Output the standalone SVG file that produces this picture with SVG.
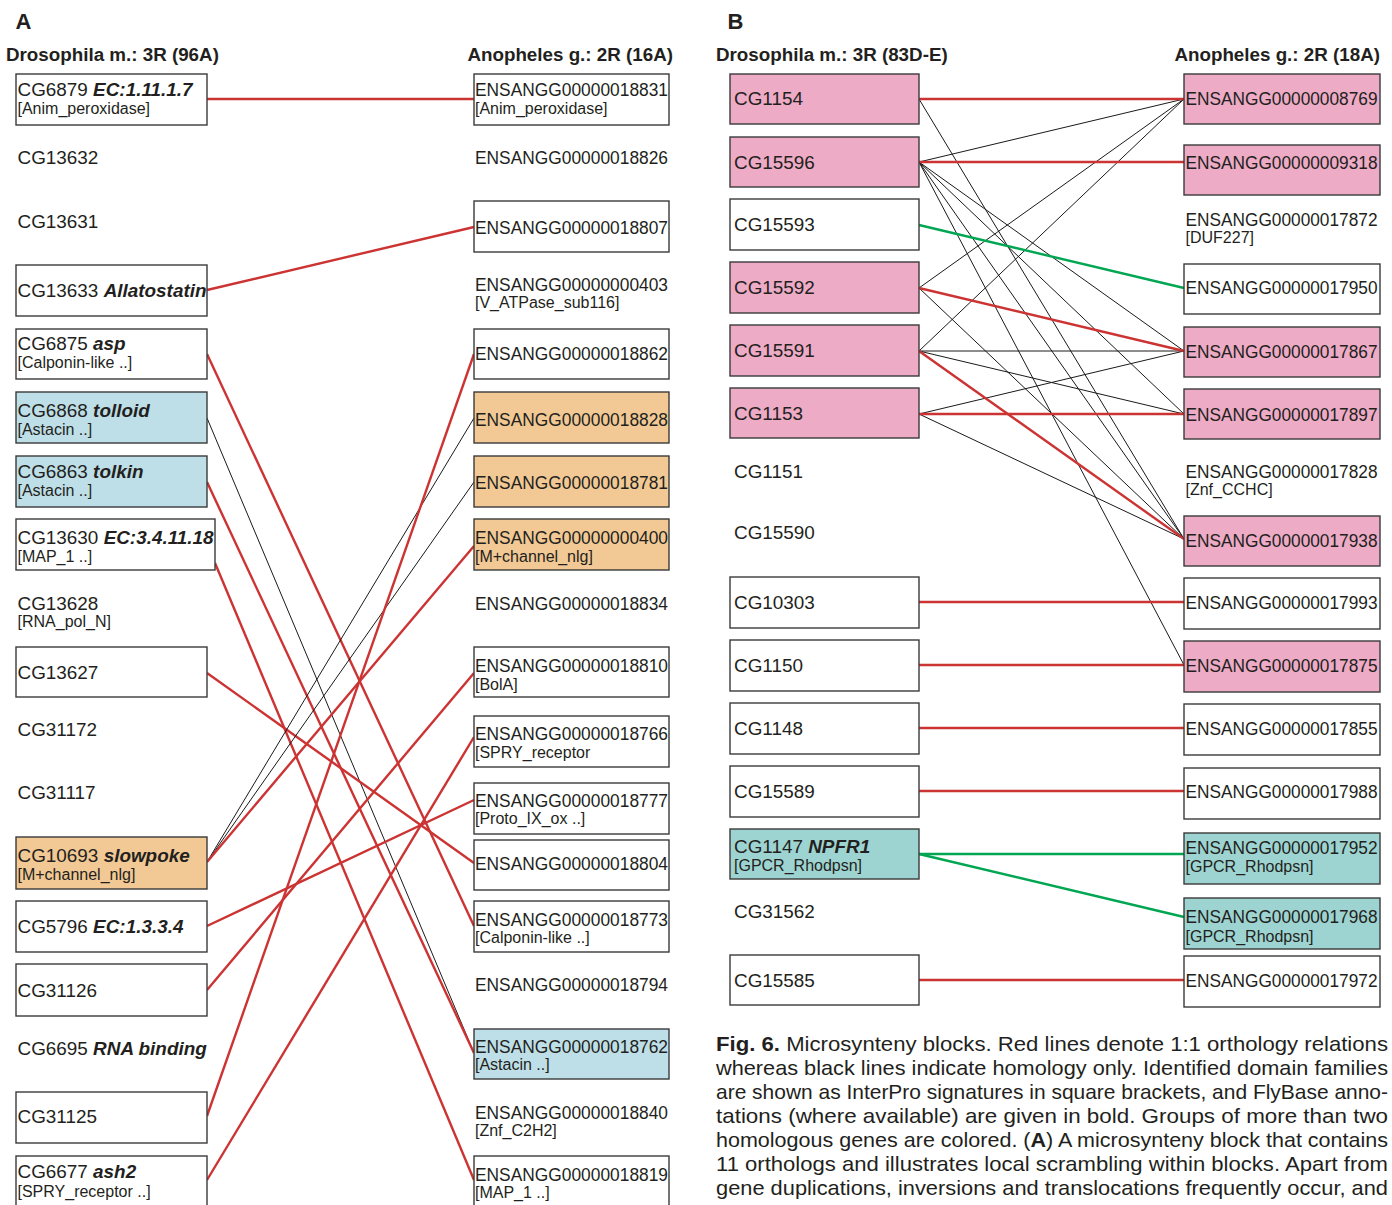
<svg xmlns="http://www.w3.org/2000/svg" width="1392" height="1205" viewBox="0 0 1392 1205">
<style>
text{font-family:"Liberation Sans",Arial,sans-serif;fill:#231f20}
.n{font-size:18.9px}
.e{font-size:18px}
.s{font-size:16px}
.bi{font-weight:bold;font-style:italic}
.h{font-size:18.8px;font-weight:bold}
.L{font-size:22px;font-weight:bold}
.cap{font-size:21px}
.bx{stroke:#3a3a3a;stroke-width:1.4;fill:#fff}
.pk{fill:#edabc6}
.bl{fill:#bfdfe8}
.or{fill:#f2c994}
.tl{fill:#9dd4d1}
.r{stroke:#cc3333;stroke-width:2.4;fill:none}
.k{stroke:#1a1a1a;stroke-width:1;fill:none}
.g{stroke:#00a651;stroke-width:2.4;fill:none}
</style>
<rect width="1392" height="1205" fill="#fff"/>

<!-- Panel labels and headers -->
<text class="L" x="15.5" y="29">A</text>
<text class="L" x="727.5" y="29">B</text>
<text class="h" x="6" y="61">Drosophila m.: 3R (96A)</text>
<text class="h" x="673" y="61" text-anchor="end">Anopheles g.: 2R (16A)</text>
<text class="h" x="716" y="61">Drosophila m.: 3R (83D-E)</text>
<text class="h" x="1380" y="61" text-anchor="end">Anopheles g.: 2R (18A)</text>

<!-- Connectors -->
<g id="connectors">
  <!-- Panel A -->
  <line class="r" x1="207" y1="99" x2="474" y2="99"/>
  <line class="r" x1="207" y1="290" x2="474" y2="227"/>
  <line class="r" x1="207" y1="354" x2="474" y2="926"/>
  <line class="k" x1="207" y1="418" x2="474" y2="1053"/>
  <line class="r" x1="207" y1="482" x2="474" y2="1053"/>
  <line class="r" x1="215" y1="563" x2="474" y2="1180"/>
  <line class="r" x1="207" y1="673" x2="474" y2="863"/>
  <line class="k" x1="207" y1="862" x2="474" y2="418"/>
  <line class="k" x1="207" y1="862" x2="474" y2="482"/>
  <line class="r" x1="207" y1="862" x2="474" y2="546"/>
  <line class="r" x1="207" y1="926" x2="474" y2="800"/>
  <line class="r" x1="207" y1="990" x2="474" y2="673"/>
  <line class="r" x1="207" y1="1116" x2="474" y2="354"/>
  <line class="r" x1="207" y1="1180" x2="474" y2="737"/>
  <!-- Panel B black -->
  <line class="k" x1="919" y1="99" x2="1184" y2="539"/>
  <line class="k" x1="919" y1="162" x2="1184" y2="99"/>
  <line class="k" x1="919" y1="162" x2="1184" y2="351"/>
  <line class="k" x1="919" y1="162" x2="1184" y2="414"/>
  <line class="k" x1="919" y1="162" x2="1184" y2="539"/>
  <line class="k" x1="919" y1="162" x2="1184" y2="665"/>
  <line class="k" x1="919" y1="288" x2="1184" y2="99"/>
  <line class="k" x1="919" y1="288" x2="1184" y2="539"/>
  <line class="k" x1="919" y1="351" x2="1184" y2="99"/>
  <line class="k" x1="919" y1="351" x2="1184" y2="351"/>
  <line class="k" x1="919" y1="351" x2="1184" y2="414"/>
  <line class="k" x1="919" y1="414" x2="1184" y2="351"/>
  <line class="k" x1="919" y1="414" x2="1184" y2="539"/>
  <!-- Panel B red / green -->
  <line class="r" x1="919" y1="99" x2="1184" y2="99"/>
  <line class="r" x1="919" y1="162" x2="1184" y2="162"/>
  <line class="g" x1="919" y1="225" x2="1184" y2="288"/>
  <line class="r" x1="919" y1="288" x2="1184" y2="351"/>
  <line class="r" x1="919" y1="351" x2="1184" y2="539"/>
  <line class="r" x1="919" y1="414" x2="1184" y2="414"/>
  <line class="r" x1="919" y1="602" x2="1184" y2="602"/>
  <line class="r" x1="919" y1="665" x2="1184" y2="665"/>
  <line class="r" x1="919" y1="728" x2="1184" y2="728"/>
  <line class="r" x1="919" y1="791" x2="1184" y2="791"/>
  <line class="g" x1="919" y1="854" x2="1184" y2="854"/>
  <line class="g" x1="919" y1="854" x2="1184" y2="917"/>
  <line class="r" x1="919" y1="980" x2="1184" y2="980"/>
</g>

<!-- Panel A, Drosophila -->
<g id="a-CG6879"><rect class="bx" x="16" y="74" width="191" height="51"/><text class="n" x="17.5" y="95.5">CG6879 <tspan class="bi">EC:1.11.1.7</tspan></text><text class="s" x="17.5" y="114">[Anim_peroxidase]</text></g>
<g id="a-CG13632"><text class="n" x="17.5" y="163.5">CG13632</text></g>
<g id="a-CG13631"><text class="n" x="17.5" y="227.5">CG13631</text></g>
<g id="a-CG13633"><rect class="bx" x="16" y="265" width="191" height="51"/><text class="n" x="17.5" y="297">CG13633 <tspan class="bi">Allatostatin</tspan></text></g>
<g id="a-CG6875"><rect class="bx" x="16" y="329" width="191" height="50"/><text class="n" x="17.5" y="349.5">CG6875 <tspan class="bi">asp</tspan></text><text class="s" x="17.5" y="368">[Calponin-like ..]</text></g>
<g id="a-CG6868"><rect class="bx bl" x="16" y="392" width="191" height="51"/><text class="n" x="17.5" y="416.5">CG6868 <tspan class="bi">tolloid</tspan></text><text class="s" x="17.5" y="435">[Astacin ..]</text></g>
<g id="a-CG6863"><rect class="bx bl" x="16" y="456" width="191" height="51"/><text class="n" x="17.5" y="477.5">CG6863 <tspan class="bi">tolkin</tspan></text><text class="s" x="17.5" y="496">[Astacin ..]</text></g>
<g id="a-CG13630"><rect class="bx" x="16" y="519" width="199" height="51"/><text class="n" x="17.5" y="543.5">CG13630 <tspan class="bi">EC:3.4.11.18</tspan></text><text class="s" x="17.5" y="562">[MAP_1 ..]</text></g>
<g id="a-CG13628"><text class="n" x="17.5" y="609.5">CG13628</text><text class="s" x="17.5" y="627">[RNA_pol_N]</text></g>
<g id="a-CG13627"><rect class="bx" x="16" y="647" width="191" height="50"/><text class="n" x="17.5" y="679">CG13627</text></g>
<g id="a-CG31172"><text class="n" x="17.5" y="735.5">CG31172</text></g>
<g id="a-CG31117"><text class="n" x="17.5" y="799">CG31117</text></g>
<g id="a-CG10693"><rect class="bx or" x="16" y="837" width="191" height="52"/><text class="n" x="17.5" y="861.5">CG10693 <tspan class="bi">slowpoke</tspan></text><text class="s" x="17.5" y="880">[M+channel_nlg]</text></g>
<g id="a-CG5796"><rect class="bx" x="16" y="901" width="191" height="51"/><text class="n" x="17.5" y="933">CG5796 <tspan class="bi">EC:1.3.3.4</tspan></text></g>
<g id="a-CG31126"><rect class="bx" x="16" y="964" width="191" height="52"/><text class="n" x="17.5" y="997">CG31126</text></g>
<g id="a-CG6695"><text class="n" x="17.5" y="1054.5">CG6695 <tspan class="bi">RNA binding</tspan></text></g>
<g id="a-CG31125"><rect class="bx" x="16" y="1092" width="191" height="51"/><text class="n" x="17.5" y="1123">CG31125</text></g>
<g id="a-CG6677"><rect class="bx" x="16" y="1156" width="191" height="60"/><text class="n" x="17.5" y="1178">CG6677 <tspan class="bi">ash2</tspan></text><text class="s" x="17.5" y="1197">[SPRY_receptor ..]</text></g>

<!-- Panel A, Anopheles -->
<g id="a-18831"><rect class="bx" x="474" y="74" width="195" height="51"/><text class="e" x="475" y="95.5" textLength="193" lengthAdjust="spacingAndGlyphs">ENSANGG00000018831</text><text class="s" x="475" y="114">[Anim_peroxidase]</text></g>
<g id="a-18826"><text class="e" x="475" y="163.5" textLength="193" lengthAdjust="spacingAndGlyphs">ENSANGG00000018826</text></g>
<g id="a-18807"><rect class="bx" x="474" y="201" width="195" height="51"/><text class="e" x="475" y="234" textLength="193" lengthAdjust="spacingAndGlyphs">ENSANGG00000018807</text></g>
<g id="a-000403"><text class="e" x="475" y="290.5" textLength="193" lengthAdjust="spacingAndGlyphs">ENSANGG00000000403</text><text class="s" x="475" y="308">[V_ATPase_sub116]</text></g>
<g id="a-18862"><rect class="bx" x="474" y="329" width="195" height="50"/><text class="e" x="475" y="359.5" textLength="193" lengthAdjust="spacingAndGlyphs">ENSANGG00000018862</text></g>
<g id="a-18828"><rect class="bx or" x="474" y="392" width="195" height="51"/><text class="e" x="475" y="426" textLength="193" lengthAdjust="spacingAndGlyphs">ENSANGG00000018828</text></g>
<g id="a-18781"><rect class="bx or" x="474" y="456" width="195" height="51"/><text class="e" x="475" y="488.5" textLength="193" lengthAdjust="spacingAndGlyphs">ENSANGG00000018781</text></g>
<g id="a-000400"><rect class="bx or" x="474" y="519" width="195" height="51"/><text class="e" x="475" y="543.5" textLength="193" lengthAdjust="spacingAndGlyphs">ENSANGG00000000400</text><text class="s" x="475" y="562">[M+channel_nlg]</text></g>
<g id="a-18834"><text class="e" x="475" y="609.5" textLength="193" lengthAdjust="spacingAndGlyphs">ENSANGG00000018834</text></g>
<g id="a-18810"><rect class="bx" x="474" y="647" width="195" height="50"/><text class="e" x="475" y="671.5" textLength="193" lengthAdjust="spacingAndGlyphs">ENSANGG00000018810</text><text class="s" x="475" y="690">[BolA]</text></g>
<g id="a-18766"><rect class="bx" x="474" y="716" width="195" height="51"/><text class="e" x="475" y="739.5" textLength="193" lengthAdjust="spacingAndGlyphs">ENSANGG00000018766</text><text class="s" x="475" y="758">[SPRY_receptor</text></g>
<g id="a-18777"><rect class="bx" x="474" y="783" width="195" height="51"/><text class="e" x="475" y="806.5" textLength="193" lengthAdjust="spacingAndGlyphs">ENSANGG00000018777</text><text class="s" x="475" y="824">[Proto_IX_ox ..]</text></g>
<g id="a-18804"><rect class="bx" x="474" y="840" width="195" height="50"/><text class="e" x="475" y="869.5" textLength="193" lengthAdjust="spacingAndGlyphs">ENSANGG00000018804</text></g>
<g id="a-18773"><rect class="bx" x="474" y="901" width="195" height="51"/><text class="e" x="475" y="925.5" textLength="193" lengthAdjust="spacingAndGlyphs">ENSANGG00000018773</text><text class="s" x="475" y="943">[Calponin-like ..]</text></g>
<g id="a-18794"><text class="e" x="475" y="990.5" textLength="193" lengthAdjust="spacingAndGlyphs">ENSANGG00000018794</text></g>
<g id="a-18762"><rect class="bx bl" x="474" y="1029" width="195" height="50"/><text class="e" x="475" y="1052.5" textLength="193" lengthAdjust="spacingAndGlyphs">ENSANGG00000018762</text><text class="s" x="475" y="1070">[Astacin ..]</text></g>
<g id="a-18840"><text class="e" x="475" y="1118.5" textLength="193" lengthAdjust="spacingAndGlyphs">ENSANGG00000018840</text><text class="s" x="475" y="1136">[Znf_C2H2]</text></g>
<g id="a-18819"><rect class="bx" x="474" y="1156" width="195" height="60"/><text class="e" x="475" y="1180.5" textLength="193" lengthAdjust="spacingAndGlyphs">ENSANGG00000018819</text><text class="s" x="475" y="1198">[MAP_1 ..]</text></g>

<!-- Panel B, Drosophila -->
<g id="b-CG1154"><rect class="bx pk" x="730" y="74" width="189" height="50"/><text class="n" x="734" y="105">CG1154</text></g>
<g id="b-CG15596"><rect class="bx pk" x="730" y="137" width="189" height="50"/><text class="n" x="734" y="168.5">CG15596</text></g>
<g id="b-CG15593"><rect class="bx" x="730" y="199" width="189" height="51"/><text class="n" x="734" y="231">CG15593</text></g>
<g id="b-CG15592"><rect class="bx pk" x="730" y="262" width="189" height="51"/><text class="n" x="734" y="294">CG15592</text></g>
<g id="b-CG15591"><rect class="bx pk" x="730" y="325" width="189" height="51"/><text class="n" x="734" y="357">CG15591</text></g>
<g id="b-CG1153"><rect class="bx pk" x="730" y="388" width="189" height="50"/><text class="n" x="734" y="420">CG1153</text></g>
<g id="b-CG1151"><text class="n" x="734" y="477.5">CG1151</text></g>
<g id="b-CG15590"><text class="n" x="734" y="539">CG15590</text></g>
<g id="b-CG10303"><rect class="bx" x="730" y="577" width="189" height="51"/><text class="n" x="734" y="609">CG10303</text></g>
<g id="b-CG1150"><rect class="bx" x="730" y="640" width="189" height="51"/><text class="n" x="734" y="672">CG1150</text></g>
<g id="b-CG1148"><rect class="bx" x="730" y="703" width="189" height="51"/><text class="n" x="734" y="735">CG1148</text></g>
<g id="b-CG15589"><rect class="bx" x="730" y="766" width="189" height="51"/><text class="n" x="734" y="798">CG15589</text></g>
<g id="b-CG1147"><rect class="bx tl" x="730" y="829" width="189" height="50"/><text class="n" x="734" y="852.5">CG1147 <tspan class="bi">NPFR1</tspan></text><text class="s" x="734" y="871">[GPCR_Rhodpsn]</text></g>
<g id="b-CG31562"><text class="n" x="734" y="917.5">CG31562</text></g>
<g id="b-CG15585"><rect class="bx" x="730" y="955" width="189" height="50"/><text class="n" x="734" y="987">CG15585</text></g>

<!-- Panel B, Anopheles -->
<g id="b-8769"><rect class="bx pk" x="1184" y="74" width="196" height="50"/><text class="e" x="1185.5" y="105" textLength="192" lengthAdjust="spacingAndGlyphs">ENSANGG00000008769</text></g>
<g id="b-9318"><rect class="bx pk" x="1184" y="145" width="196" height="50"/><text class="e" x="1185.5" y="168.5" textLength="192" lengthAdjust="spacingAndGlyphs">ENSANGG00000009318</text></g>
<g id="b-17872"><text class="e" x="1185.5" y="225.5" textLength="192" lengthAdjust="spacingAndGlyphs">ENSANGG00000017872</text><text class="s" x="1185.5" y="243">[DUF227]</text></g>
<g id="b-17950"><rect class="bx" x="1184" y="264" width="196" height="50"/><text class="e" x="1185.5" y="294" textLength="192" lengthAdjust="spacingAndGlyphs">ENSANGG00000017950</text></g>
<g id="b-17867"><rect class="bx pk" x="1184" y="327" width="196" height="50"/><text class="e" x="1185.5" y="357.5" textLength="192" lengthAdjust="spacingAndGlyphs">ENSANGG00000017867</text></g>
<g id="b-17897"><rect class="bx pk" x="1184" y="389" width="196" height="50"/><text class="e" x="1185.5" y="420.5" textLength="192" lengthAdjust="spacingAndGlyphs">ENSANGG00000017897</text></g>
<g id="b-17828"><text class="e" x="1185.5" y="477.5" textLength="192" lengthAdjust="spacingAndGlyphs">ENSANGG00000017828</text><text class="s" x="1185.5" y="495">[Znf_CCHC]</text></g>
<g id="b-17938"><rect class="bx pk" x="1184" y="516" width="196" height="50"/><text class="e" x="1185.5" y="546.5" textLength="192" lengthAdjust="spacingAndGlyphs">ENSANGG00000017938</text></g>
<g id="b-17993"><rect class="bx" x="1184" y="578" width="196" height="51"/><text class="e" x="1185.5" y="609" textLength="192" lengthAdjust="spacingAndGlyphs">ENSANGG00000017993</text></g>
<g id="b-17875"><rect class="bx pk" x="1184" y="641" width="196" height="51"/><text class="e" x="1185.5" y="672" textLength="192" lengthAdjust="spacingAndGlyphs">ENSANGG00000017875</text></g>
<g id="b-17855"><rect class="bx" x="1184" y="704" width="196" height="51"/><text class="e" x="1185.5" y="735" textLength="192" lengthAdjust="spacingAndGlyphs">ENSANGG00000017855</text></g>
<g id="b-17988"><rect class="bx" x="1184" y="768" width="196" height="51"/><text class="e" x="1185.5" y="798" textLength="192" lengthAdjust="spacingAndGlyphs">ENSANGG00000017988</text></g>
<g id="b-17952"><rect class="bx tl" x="1184" y="833" width="196" height="51"/><text class="e" x="1185.5" y="853.5" textLength="192" lengthAdjust="spacingAndGlyphs">ENSANGG00000017952</text><text class="s" x="1185.5" y="872">[GPCR_Rhodpsn]</text></g>
<g id="b-17968"><rect class="bx tl" x="1184" y="898" width="196" height="51"/><text class="e" x="1185.5" y="923" textLength="192" lengthAdjust="spacingAndGlyphs">ENSANGG00000017968</text><text class="s" x="1185.5" y="942">[GPCR_Rhodpsn]</text></g>
<g id="b-17972"><rect class="bx" x="1184" y="956" width="196" height="51"/><text class="e" x="1185.5" y="987" textLength="192" lengthAdjust="spacingAndGlyphs">ENSANGG00000017972</text></g>

<!-- Caption -->
<g id="caption">
<text class="cap" x="716" y="1051" textLength="672" lengthAdjust="spacingAndGlyphs"><tspan font-weight="bold">Fig. 6.</tspan> Microsynteny blocks. Red lines denote 1:1 orthology relations</text>
<text class="cap" x="716" y="1075" textLength="672" lengthAdjust="spacingAndGlyphs">whereas black lines indicate homology only. Identified domain families</text>
<text class="cap" x="716" y="1099" textLength="672" lengthAdjust="spacingAndGlyphs">are shown as InterPro signatures in square brackets, and FlyBase anno-</text>
<text class="cap" x="716" y="1123" textLength="672" lengthAdjust="spacingAndGlyphs">tations (where available) are given in bold. Groups of more than two</text>
<text class="cap" x="716" y="1147" textLength="672" lengthAdjust="spacingAndGlyphs">homologous genes are colored. (<tspan font-weight="bold">A</tspan>) A microsynteny block that contains</text>
<text class="cap" x="716" y="1171" textLength="672" lengthAdjust="spacingAndGlyphs">11 orthologs and illustrates local scrambling within blocks. Apart from</text>
<text class="cap" x="716" y="1195" textLength="672" lengthAdjust="spacingAndGlyphs">gene duplications, inversions and translocations frequently occur, and</text>
</g>
</svg>
